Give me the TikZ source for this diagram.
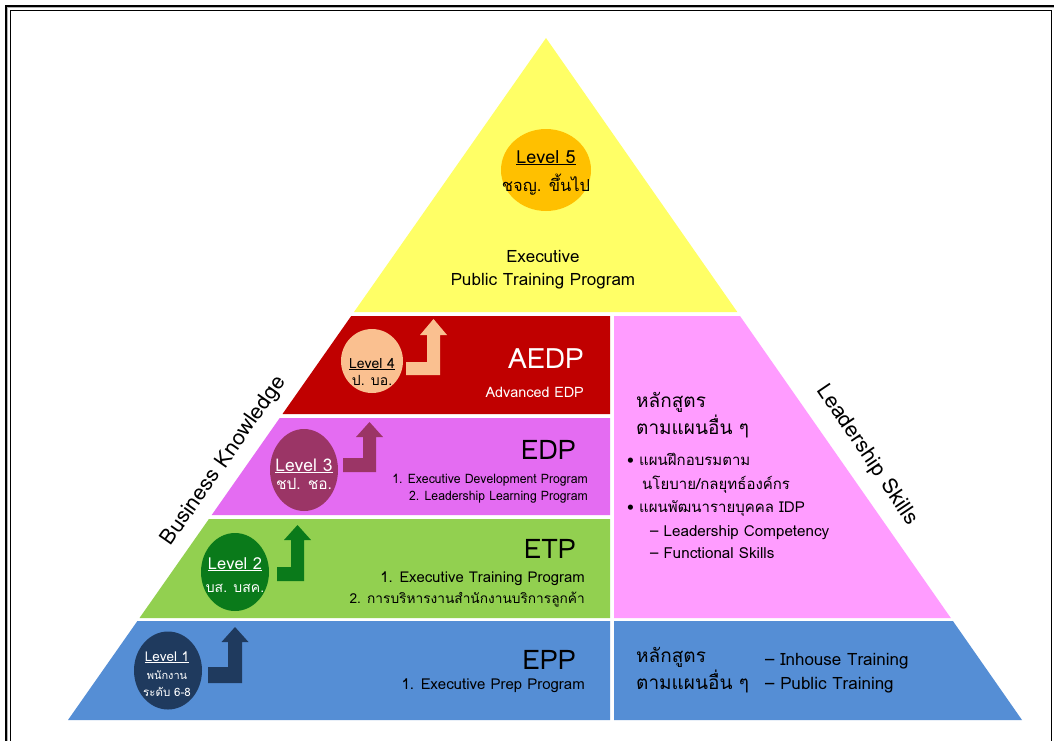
\documentclass[tikz,border=0pt]{standalone}
\usepackage{fontspec}
\setmainfont{Loma}[Script=Thai]
\usetikzlibrary{shapes.geometric}
\definecolor{cYellow}{HTML}{FFFF66}
\definecolor{cRed}{HTML}{C00000}
\definecolor{cMag}{HTML}{E46CF2}
\definecolor{cPink}{HTML}{FF9CFF}
\definecolor{cGreen}{HTML}{92D050}
\definecolor{cBlue}{HTML}{558ED5}
\definecolor{cLa}{HTML}{FFC000}
\definecolor{cLb}{HTML}{FAC090}
\definecolor{cLc}{HTML}{9B3566}
\definecolor{cLd}{HTML}{0A7A1A}
\definecolor{cLe}{HTML}{1F3A5E}
\newcommand{\fs}[1]{\fontsize{#1}{#1}\selectfont}
\begin{document}
\begin{tikzpicture}[x=1pt,y=-1pt,
  lvl/.style={ellipse,inner sep=0pt},
  txt/.style={inner sep=0pt,anchor=base},
  rtxt/.style={inner sep=0pt,anchor=base east},
  ltxt/.style={inner sep=0pt,anchor=base west}]
\useasboundingbox (0,0) rectangle (1054,740);
\fill[white] (0,0) rectangle (1054,740);
% frame
\draw[line width=2pt] (5.5,760) -- (5.5,5.5) -- (1060,5.5);
\draw[gray!60,line width=0.8pt] (7.5,760) -- (7.5,7.5) -- (1060,7.5);
\draw[line width=1.6pt] (10.5,760) -- (10.5,10.5) -- (1051.5,10.5) -- (1051.5,760);
% pyramid
\fill[cYellow] (546,38) -- (737.3,312) -- (354,312) -- cycle;
\fill[cRed] (351.2,316) -- (610,316) -- (610,414) -- (282.5,414) -- cycle;
\fill[cMag] (279.7,418) -- (610,418) -- (610,515) -- (211.7,515) -- cycle;
\fill[cGreen] (208.9,519) -- (610,519) -- (610,618) -- (139.5,618) -- cycle;
\fill[cBlue] (137.4,621) -- (610,621) -- (610,720) -- (68,720) -- cycle;
\fill[cPink] (614,316) -- (740,316) -- (950.8,618) -- (614,618) -- cycle;
\fill[cBlue] (614,621) -- (952.9,621) -- (1022,720) -- (614,720) -- cycle;
% bent arrows
\fill[cLb] (406,362) -- (427,362) -- (427,335) -- (420,335) -- (433.5,319) -- (447,335) -- (440,335) -- (440,375) -- (406,375) -- cycle;
\fill[cLc] (343,458) -- (363,458) -- (363,437) -- (356,437) -- (369.5,422) -- (383,437) -- (376,437) -- (376,472) -- (343,472) -- cycle;
\fill[cLd] (277,567) -- (291,567) -- (291,540) -- (284,540) -- (297.5,525) -- (311,540) -- (304,540) -- (304,581) -- (277,581) -- cycle;
\fill[cLe] (208,667) -- (228,667) -- (228,642) -- (221.5,642) -- (235,627) -- (248.5,642) -- (242,642) -- (242,683) -- (208,683) -- cycle;
% level circles
\node[lvl,fill=cLa,minimum width=90,minimum height=82] (l5) at (546,170) {};
\node[lvl,fill=cLb,minimum width=62,minimum height=64] (l4) at (372,361) {};
\node[lvl,fill=cLc,minimum width=68,minimum height=82] (l3) at (304,470) {};
\node[lvl,fill=cLd,minimum width=68,minimum height=78] (l2) at (235,572) {};
\node[lvl,fill=cLe,minimum width=68,minimum height=78] (l1) at (168,670.5) {};
% level texts
\node[txt] (l5a) at (546,163) {\fs{18}\underline{Level 5}};
\node[txt] (l5b) at (546,191) {\fs{16.5}ชจญ. ขึ้นไป};
\node[txt] (l4a) at (372,368) {\fs{14}\underline{Level 4}};
\node[txt] (l4b) at (372,385) {\fs{14}ป. บอ.};
\node[txt,white] (l3a) at (304,471) {\fs{17.5}\underline{Level 3}};
\node[txt,white] (l3b) at (304,489) {\fs{15.5}ชป. ชอ.};
\node[txt,white] (l2a) at (235,569) {\fs{16.5}\underline{Level 2}};
\node[txt,white] (l2b) at (235,592) {\fs{14}บส. บสค.};
\node[txt,white] (l1a) at (167,661) {\fs{13.5}\underline{Level 1}};
\node[txt,white] (l1b) at (167,679) {\fs{11}พนักงาน};
\node[txt,white] (l1c) at (167,696) {\fs{11.5}ระดับ 6-8};
% top
\node[txt] (t1) at (543,262) {\fs{17}Executive};
\node[txt] (t2) at (543,285) {\fs{17}Public Training Program};
% AEDP
\node[rtxt,white] (a1) at (584,368) {\fs{28}AEDP};
\node[rtxt,white] (a2) at (584,397) {\fs{14.4}Advanced EDP};
% EDP
\node[rtxt] (e1) at (576,459) {\fs{27}EDP};
\node[rtxt] (e2) at (588,483) {\fs{13}\scalebox{0.94}[1]{1. Executive Development Program}};
\node[rtxt] (e3) at (588,500) {\fs{13}\scalebox{0.94}[1]{2. Leadership Learning Program}};
% ETP
\node[rtxt] (p1) at (576,558) {\fs{27}ETP};
\node[rtxt] (p2) at (585,582) {\fs{14.9}1. Executive Training Program};
\node[rtxt] (p3) at (585,603) {\fs{13.7}2. การบริหารงานสำนักงานบริการลูกค้า};
% EPP
\node[rtxt] (q1) at (576,669) {\fs{27}EPP};
\node[rtxt] (q2) at (585,689) {\fs{15}1. Executive Prep Program};
% right pink
\node[ltxt] (r1) at (636,407) {\fs{19}หลักสูตร};
\node[ltxt] (r2) at (636,434) {\fs{19}ตามแผนอื่น ๆ};
\node[ltxt] (r3) at (627,465) {\fs{15}• แผนฝึกอบรมตาม};
\node[ltxt] (r4) at (642,489) {\fs{15}นโยบาย/กลยุทธ์องค์กร};
\node[ltxt] (r5) at (627,512) {\fs{15}• แผนพัฒนารายบุคคล IDP};
\node[ltxt] (r6) at (650,536) {\fs{15.2}– Leadership Competency};
\node[ltxt] (r7) at (650,558) {\fs{15.2}– Functional Skills};
% right blue
\node[ltxt] (b1) at (636,662) {\fs{19}หลักสูตร};
\node[ltxt] (b2) at (636,689) {\fs{19}ตามแผนอื่น ๆ};
\node[ltxt] (b3) at (765,665) {\fs{17}– Inhouse Training};
\node[ltxt] (b4) at (765,689) {\fs{17}– Public Training};
% side labels
\node[rotate=55] (bk) at (224,461) {\fs{21.5}Business Knowledge};
\node[rotate=-56] (ls) at (867,455) {\fs{21.5}Leadership Skills};
\end{tikzpicture}
\end{document}
